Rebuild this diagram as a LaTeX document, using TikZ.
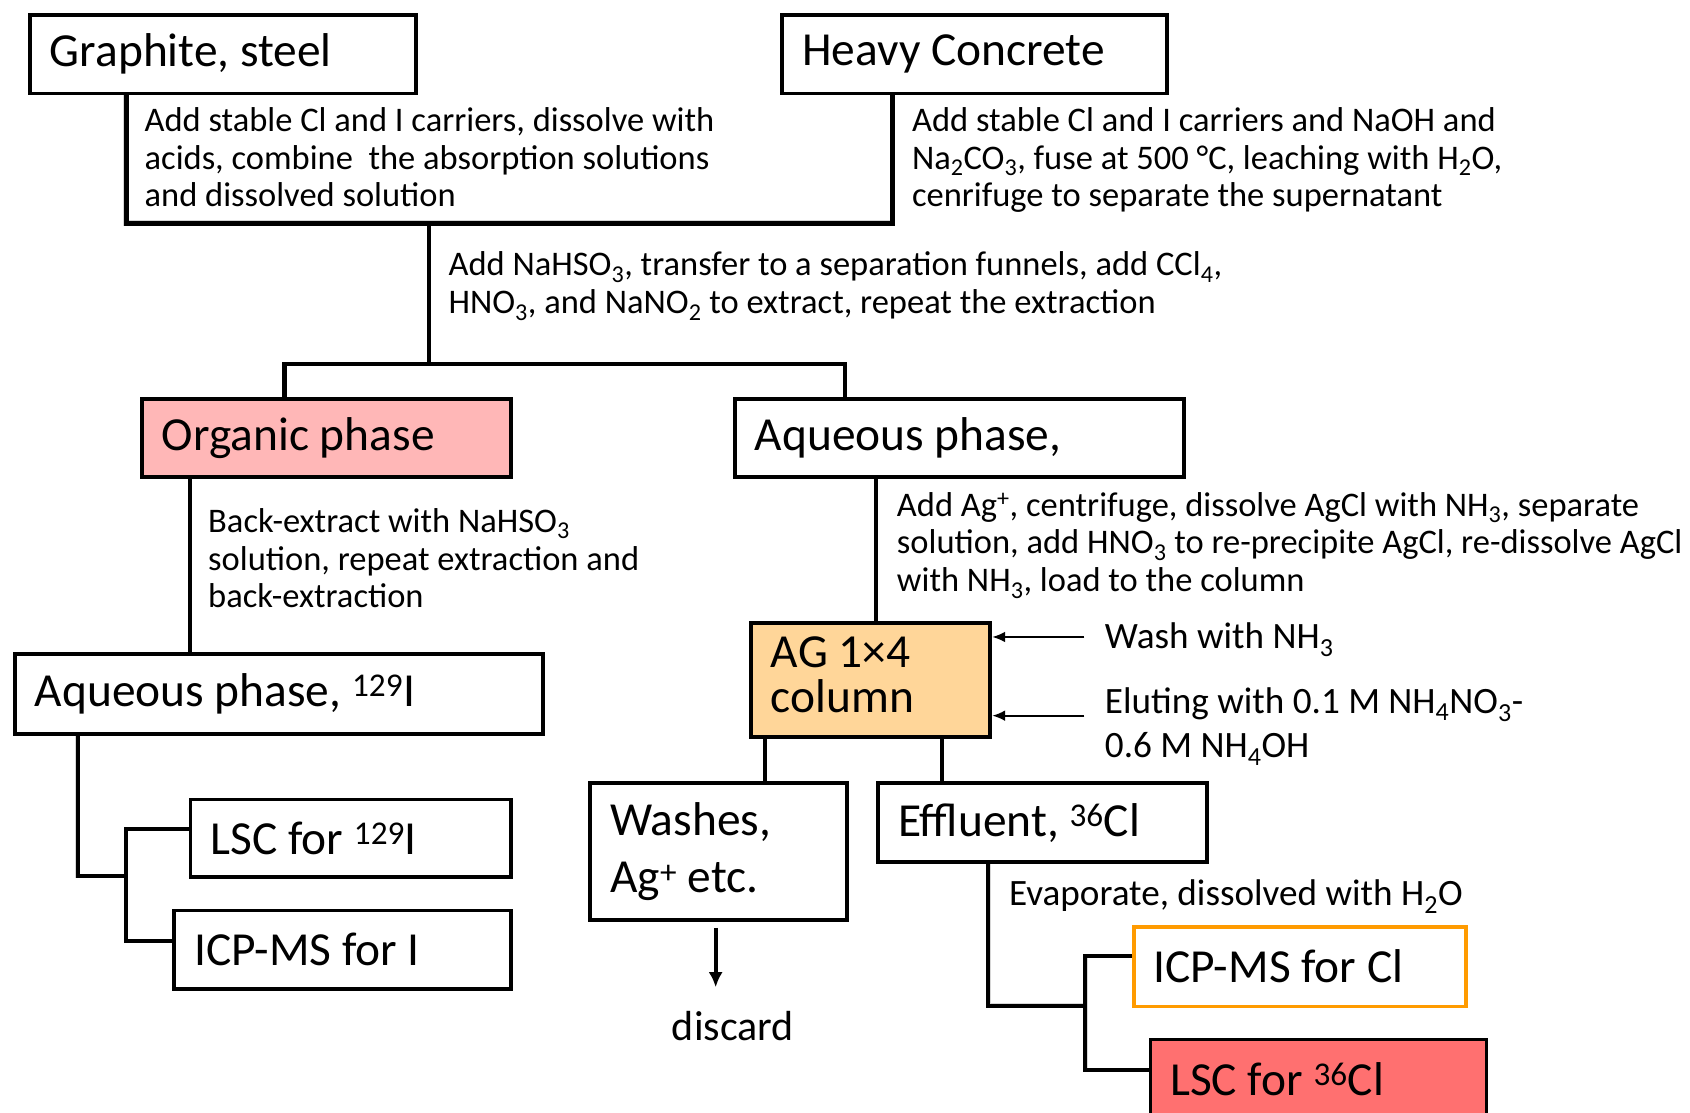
\documentclass[tikz,border=0pt]{standalone}
\usepackage{fontspec}
\setmainfont{Carlito}
\usetikzlibrary{arrows.meta,backgrounds}
\definecolor{orgpink}{RGB}{255,183,183}
\definecolor{agorange}{RGB}{255,214,153}
\definecolor{cborder}{RGB}{255,155,0}
\definecolor{lscred}{RGB}{255,112,112}
\begin{document}
\begin{tikzpicture}[x=1pt,y=-1pt,
  box/.style={draw=black, line width=3.6pt, fill=white, anchor=north west,
    inner xsep=18.5pt, inner ysep=0pt, align=flush left,
    font=\fontsize{44}{48}\selectfont},
  note/.style={inner sep=0pt, anchor=base west, align=left,
    font=\fontsize{32}{35}\selectfont},
  bignote/.style={note, font=\fontsize{34.5}{41}\selectfont},
  conn/.style={draw=black, line width=3.8pt, line join=miter},
  shad/.style={draw=black!16, line width=4pt, line join=miter, shift={(2,3)}},
  thinarr/.style={draw=black, line width=1.8pt, -{Latex[length=12pt,width=10pt]}},
  thickarr/.style={draw=black, line width=3.6pt, -{Latex[length=14pt,width=13pt]}}
]
\useasboundingbox (0,0) rectangle (1568,1032);
\clip (0,0) rectangle (1568,1032);

% junction coordinates
\coordinate (ja) at (117,207);
\coordinate (jb) at (828,207);
\coordinate (jc) at (398,207);
\coordinate (jd) at (398,338);
\coordinate (je) at (264,338);
\coordinate (jf) at (784,338);
\coordinate (k1) at (176,500);
\coordinate (m1) at (72,813);
\coordinate (m2) at (117,813);
\coordinate (m3) at (117,769);
\coordinate (m4) at (117,873);
\coordinate (n1) at (813,500);
\coordinate (n2) at (710,700);
\coordinate (n3) at (874,700);
\coordinate (q1) at (664,861);
\coordinate (q2) at (664,916);
\coordinate (r1) at (1006,591);
\coordinate (r2) at (1006,664);
\coordinate (s1) at (917,933);
\coordinate (s2) at (1007,933);
\coordinate (s3) at (1007,887);
\coordinate (s4) at (1007,993);

% boxes
\node[box, minimum width=358pt, minimum height=73pt, text width=321pt] (gs) at (26,12) {Graphite, steel};
\node[box, minimum width=357pt, minimum height=73pt, text width=320pt] (hc) at (724,12) {Heavy Concrete};
\node[box, fill=orgpink, minimum width=342pt, minimum height=73pt, text width=305pt] (org) at (130,368) {Organic phase};
\node[box, minimum width=417pt, minimum height=73pt, text width=380pt] (aq) at (680,368) {Aqueous phase,};
\node[box, minimum width=490pt, minimum height=74pt, text width=453pt] (aqi) at (12,605) {Aqueous phase, \textsuperscript{129}I};
\node[box, minimum width=297pt, minimum height=72pt, text width=260pt] (lsci) at (175,740) {LSC for \textsuperscript{129}I};
\node[box, minimum width=312pt, minimum height=73pt, text width=275pt] (icpi) at (160,843) {ICP-MS for I};
\node[box, fill=agorange, minimum width=222pt, minimum height=106pt, text width=185pt,
  font=\fontsize{44}{42}\selectfont] (ag) at (695,576) {AG 1×4\\column\rule[-10pt]{0pt}{0pt}};
\node[box, minimum width=238pt, minimum height=127pt, text width=201pt,
  font=\fontsize{44}{53}\selectfont] (wash) at (546,725) {Washes,\\Ag\textsuperscript{+} etc.};
\node[box, minimum width=305pt, minimum height=73pt, text width=268pt] (eff) at (813,725) {Effluent, \textsuperscript{36}Cl};
\node[box, draw=cborder, minimum width=308pt, minimum height=74pt, text width=271pt] (icpc) at (1050,858) {ICP-MS for Cl};
\node[box, fill=lscred, line width=2.4pt, minimum width=312pt, minimum height=74pt, text width=275pt] (lscc) at (1066,963) {LSC for \textsuperscript{36}Cl};

% notes (anchored at baseline of last line)
\node[note] (t1) at (134,192) {Add stable Cl and I carriers, dissolve with\\acids, combine\ \ the absorption solutions\\and dissolved solution};
\node[note] (t2) at (846,192) {Add stable Cl and I carriers and NaOH and\\Na\textsubscript{2}CO\textsubscript{3}, fuse at 500 °C, leaching with H\textsubscript{2}O,\\cenrifuge to separate the supernatant};
\node[note] (t3) at (416,291) {Add NaHSO\textsubscript{3}, transfer to a separation funnels, add CCl\textsubscript{4},\\HNO\textsubscript{3}, and NaNO\textsubscript{2} to extract, repeat the extraction};
\node[note] (t4) at (193,564) {Back-extract with NaHSO\textsubscript{3}\\solution, repeat extraction and\\back-extraction};
\node[note] (t5) at (832,549) {Add Ag\textsuperscript{+}, centrifuge, dissolve AgCl with NH\textsubscript{3}, separate\\solution, add HNO\textsubscript{3} to re-precipite AgCl, re-dissolve AgCl\\with NH\textsubscript{3}, load to the column};
\node[bignote] (t6) at (1025,602) {Wash with NH\textsubscript{3}};
\node[bignote] (t7) at (1025,703) {Eluting with 0.1 M NH\textsubscript{4}NO\textsubscript{3}-\\0.6 M NH\textsubscript{4}OH};
\node[bignote] (t8) at (936,840) {Evaporate, dissolved with H\textsubscript{2}O};
\node[inner sep=0pt, font=\fontsize{39}{42}\selectfont] (disc) at (680,952) {discard};

\begin{pgfonlayer}{background}
\fill[white] (0,0) rectangle (1568,1032);
% connector shadows
\draw[shad, line width=5pt] (gs.south -| ja) -- (ja) -- (jb) -- (hc.south -| jb);
\draw[shad] (jc) -- (jd);
\draw[shad] (org.north -| je) -- (je) -- (jf) -- (aq.north -| jf);
\draw[shad] (aqi.south -| m1) -- (m1) -- (m2);
\draw[shad] (lsci.west |- m3) -- (m3) -- (m4) -- (icpi.west |- m4);
\draw[shad] (eff.south -| s1) -- (s1) -- (s2);
\draw[shad] (icpc.west |- s3) -- (s3) -- (s4) -- (lscc.west |- s4);
% connectors
\draw[conn, line width=4.6pt] (gs.south -| ja) -- (ja) -- (jb) -- (hc.south -| jb);
\draw[conn] (jc) -- (jd);
\draw[conn] (org.north -| je) -- (je) -- (jf) -- (aq.north -| jf);
\draw[conn] (org.south -| k1) -- (aqi.north -| k1);
\draw[conn] (aqi.south -| m1) -- (m1) -- (m2);
\draw[conn] (lsci.west |- m3) -- (m3) -- (m4) -- (icpi.west |- m4);
\draw[conn] (aq.south -| n1) -- (ag.north -| n1);
\draw[conn] (ag.south -| n2) -- (wash.north -| n2);
\draw[conn] (ag.south -| n3) -- (eff.north -| n3);
\draw[conn] (eff.south -| s1) -- (s1) -- (s2);
\draw[conn] (icpc.west |- s3) -- (s3) -- (s4) -- (lscc.west |- s4);
\end{pgfonlayer}

% arrows
\draw[thickarr] (q1) -- (q2);
\draw[thinarr] (r1) -- (ag.east |- r1);
\draw[thinarr] (r2) -- (ag.east |- r2);
\end{tikzpicture}
\end{document}
